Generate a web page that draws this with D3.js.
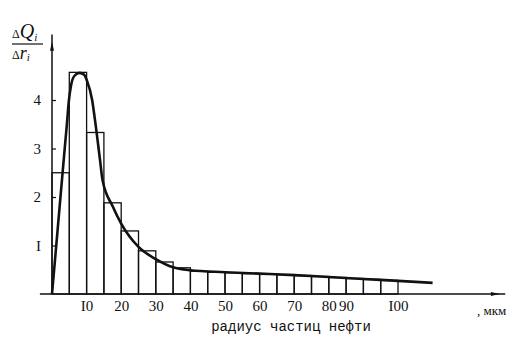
<!DOCTYPE html>
<html>
<head>
<meta charset="utf-8">
<script src="https://cdn.jsdelivr.net/npm/d3@7"></script>
<style>
  body { margin: 0; background: #fff; }
  text { fill: #111; }
</style>
</head>
<body>
<svg id="canvas" width="532" height="343"></svg>
<script>
// histogram bins: start of each 5 mkm interval and its height
let binStart = [0, 5, 10, 15, 20, 25, 30, 35, 40, 45, 50, 55, 60, 65, 70, 75, 80, 85, 90, 95]
let binHeight = [2.5, 4.57, 3.33, 1.88, 1.30, 0.89, 0.66, 0.54, 0.47, 0.45, 0.44, 0.42, 0.41, 0.40, 0.38, 0.36, 0.34, 0.32, 0.30, 0.28]
let binWidth = 5

// smooth curve
let curveR = [0, 0.9, 2.3, 3.5, 4.3, 4.9, 5.5, 6.5, 8, 9.3, 10.1, 11.6, 12.4, 13.9, 14.6, 17.6, 20, 25, 30, 35, 40, 50, 60, 70, 80, 90, 100, 110]
let curveQ = [0, 0.73, 1.88, 2.86, 3.5, 4.0, 4.3, 4.5, 4.56, 4.52, 4.4, 4.0, 3.6, 2.75, 2.35, 1.8, 1.45, 0.97, 0.72, 0.55, 0.49, 0.45, 0.42, 0.39, 0.35, 0.31, 0.27, 0.23]

// axis ticks
let yTicks = [1, 2, 3, 4]
let yTickText = ["I", "2", "3", "4"]
let xTickPos = [10, 20, 30, 40, 50, 60, 70, 80, 85, 100]
let xTickText = ["I0", "20", "30", "40", "50", "60", "70", "80", "90", "I00"]

let serif = "'Liberation Serif', 'DejaVu Serif', serif"
let mono = "'Liberation Mono', 'DejaVu Sans Mono', monospace"

let canvas = d3.select("#canvas")

let x = d3.scaleLinear().domain([0, 100]).range([52, 398])
let y = d3.scaleLinear().domain([0, 4]).range([294, 100])

//Bars
canvas.append("g")
    .selectAll("rect")
    .data(binStart)
    .join("rect")
    .attr("x", (d) => x(d))
    .attr("y", (d, i) => y(binHeight[i]))
    .attr("width", (d) => x(d + binWidth) - x(d))
    .attr("height", (d, i) => y(0) - y(binHeight[i]))
    .attr("fill", "none")
    .attr("stroke", "#111")
    .attr("stroke-width", 1.3)

//Curve
let line = d3.line()
    .x((d) => x(d[0]))
    .y((d) => y(d[1]))
    .curve(d3.curveMonotoneX)
canvas.append("path")
    .attr("d", line(d3.zip(curveR, curveQ)))
    .attr("fill", "none")
    .attr("stroke", "#111")
    .attr("stroke-width", 2.6)
    .attr("stroke-linejoin", "round")

//Axis lines with arrows
canvas.append("line")
    .attr("x1", x(-3.5)).attr("x2", x(131))
    .attr("y1", y(0)).attr("y2", y(0))
    .attr("stroke", "#111").attr("stroke-width", 1.5)
canvas.append("line")
    .attr("x1", x(0)).attr("x2", x(0))
    .attr("y1", y(0)).attr("y2", y(5.35))
    .attr("stroke", "#111").attr("stroke-width", 1.5)
let ax = x(128), ay = y(5.1)
canvas.append("path")
    .attr("d", `M${ax + 5},${y(0)} L${ax - 4},${y(0) - 2} L${ax - 4},${y(0) + 2} Z`)
    .attr("fill", "#111")
canvas.append("path")
    .attr("d", `M${x(0)},${ay - 5} L${x(0) - 2},${ay + 4} L${x(0) + 2},${ay + 4} Z`)
    .attr("fill", "#111")

//Y axis ticks
let yAxis = d3.axisLeft(y)
    .tickValues(yTicks)
    .tickFormat((d, i) => yTickText[i])
    .tickSizeInner(-4)
    .tickSizeOuter(0)
    .tickPadding(11)
let gy = canvas.append("g")
    .attr("transform", "translate(" + x(0) + ",0)")
    .call(yAxis)
    .attr("font-family", serif)
    .attr("font-size", 15)
gy.select(".domain").remove()
gy.selectAll("line").attr("stroke", "#111").attr("stroke-width", 1.2)

//X axis labels
let xAxis = d3.axisBottom(x)
    .tickValues(xTickPos)
    .tickFormat((d, i) => xTickText[i])
    .tickSize(0)
    .tickPadding(6)
let gx = canvas.append("g")
    .attr("transform", "translate(0," + y(0) + ")")
    .call(xAxis)
    .attr("font-family", serif)
    .attr("font-size", 15)
gx.select(".domain").remove()

//Axis titles
canvas.append("text")
    .attr("x", 291).attr("y", 331)
    .attr("text-anchor", "middle")
    .attr("font-family", mono)
    .attr("font-size", 14)
    .text("радиус частиц нефти")
canvas.append("text")
    .attr("x", 477).attr("y", 315)
    .attr("font-family", serif)
    .attr("font-size", 13)
    .text(",  мкм")

let ylab = canvas.append("g").attr("font-family", serif)
ylab.append("text")
    .attr("x", 12).attr("y", 38)
    .attr("font-size", 20)
    .html('<tspan font-size="12">Δ</tspan><tspan font-style="italic">Q</tspan><tspan font-style="italic" font-size="11" dy="3">i</tspan>')
ylab.append("line")
    .attr("x1", 12).attr("x2", 43)
    .attr("y1", 44).attr("y2", 44)
    .attr("stroke", "#111").attr("stroke-width", 1.2)
ylab.append("text")
    .attr("x", 12).attr("y", 59)
    .attr("font-size", 18)
    .html('<tspan font-size="12">Δ</tspan><tspan font-style="italic">r</tspan><tspan font-style="italic" font-size="11" dy="2">i</tspan>')
</script>
</body>
</html>
